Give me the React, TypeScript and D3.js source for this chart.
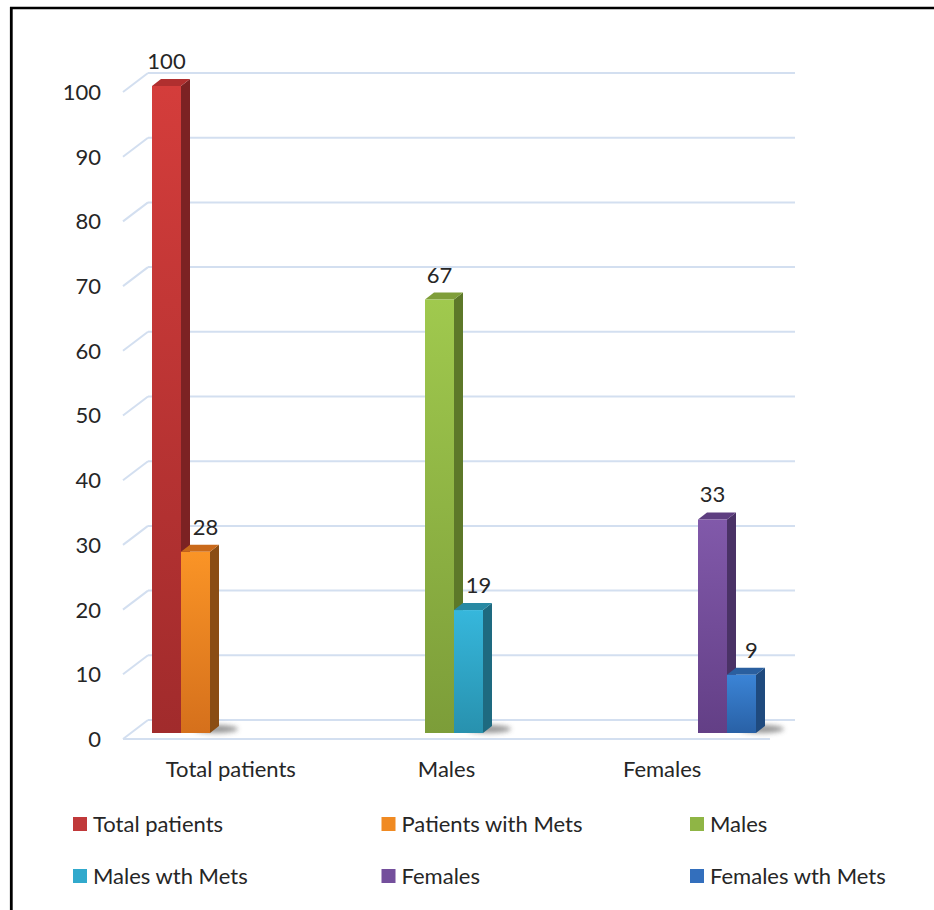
import React from "react";
import * as d3 from "d3";

const categories = ["Total patients", "Males", "Females"];
const seriesNames = [
  "Total patients",
  "Patients with Mets",
  "Males",
  "Males wth Mets",
  "Females",
  "Females wth Mets",
];
// per category: [main, with Mets]
const mainValues = [100, 67, 33];
const metsValues = [28, 19, 9];
const yTicks = [0, 10, 20, 30, 40, 50, 60, 70, 80, 90, 100];

// colours per series: [top, bottom, side, cap]
const seriesColors = [
  ["#d43d3b", "#a12b2c", "#7c2223", "#b02f2f"],
  ["#fa9426", "#d5701c", "#8a4d14", "#c9691a"],
  ["#a0c94e", "#7c9d39", "#5d7829", "#7f9e39"],
  ["#36b7dc", "#2891ae", "#1e6a80", "#2889a3"],
  ["#8159aa", "#633f86", "#4a3266", "#5e3e80"],
  ["#3b84d6", "#2961a6", "#1f4a7e", "#2a5f9f"],
];
const legendSwatch = ["#c0393a", "#f08a22", "#8fb545", "#31a9cc", "#744f9c", "#336fbd"];

const FONT = "Lato, 'Liberation Sans', Arial, sans-serif";
const TEXT = "#262626";
const GRID = "#d3dff0";

export default function App() {
  const W = 934;
  const H = 910;
  const y = d3.scaleLinear().domain([0, 100]).range([720, 73]);
  const depthX = -25;
  const depthY = 19;
  const backLeft = 148;
  const backRight = 795;
  const barFrontOffset = 13;
  const xCat = d3.scaleBand().domain(categories).range([backLeft + depthX, backRight + depthX]);
  const xGroup = d3.scalePoint().domain(categories).range([152, 698]);
  const barW = 29;
  const sideDx = 9;
  const sideDy = -7;

  const bars: { x: number; v: number; s: number; label: number }[] = [];
  categories.forEach((c, i) => {
    const gx = xGroup(c) as number;
    bars.push({ x: gx, v: mainValues[i], s: i * 2, label: 0 });
    bars.push({ x: gx + barW, v: metsValues[i], s: i * 2 + 1, label: 10 });
  });

  const legCol = d3.scalePoint<number>().domain([0, 1, 2]).range([73, 690]);
  const legRow = d3.scalePoint<number>().domain([0, 1]).range([824, 876]);

  return (
    <svg
      width={W}
      height={H}
      style={{ position: "absolute", left: 0, top: 0, background: "#fff" }}
      fontFamily={FONT}
    >
      <defs>
        {seriesColors.map((c, i) => (
          <linearGradient key={i} id={`g${i}`} x1="0" y1="0" x2="0" y2="1">
            <stop offset="0" stopColor={c[0]} />
            <stop offset="1" stopColor={c[1]} />
          </linearGradient>
        ))}
        <filter id="blur" x="-50%" y="-200%" width="200%" height="500%">
          <feGaussianBlur stdDeviation="2.5" />
        </filter>
      </defs>
      <rect x={0} y={0} width={W} height={H} fill="#fff" />
      {/* frame */}
      <line x1={11.3} y1={7} x2={11.3} y2={H} stroke="#000" strokeWidth={2.8} />
      <line x1={10} y1={8} x2={W} y2={8} stroke="#000" strokeWidth={2.5} />

      {/* gridlines on back wall with left diagonal */}
      {yTicks.map((t) => (
        <g key={t}>
          <line x1={backLeft + depthX} y1={y(t) + depthY} x2={backLeft} y2={y(t)} stroke={GRID} strokeWidth={2} />
          <line x1={backLeft} y1={y(t)} x2={backRight} y2={y(t)} stroke={GRID} strokeWidth={2} />
        </g>
      ))}
      {/* floor front edge */}
      <line
        x1={backLeft + depthX}
        y1={y(0) + depthY}
        x2={backRight + depthX}
        y2={y(0) + depthY}
        stroke={GRID}
        strokeWidth={2}
      />

      {/* y tick labels */}
      {yTicks.map((t) => (
        <text
          key={t}
          x={101}
          y={y(t) + depthY}
          dy="0.36em"
          textAnchor="end"
          fontSize={22}
          fill={TEXT}
        >
          {t}
        </text>
      ))}

      {/* shadows */}
      {categories.map((c) => {
        const gx = (xGroup(c) as number) + 2 * barW;
        return (
          <ellipse
            key={c}
            cx={gx + 6}
            cy={y(0) + barFrontOffset - 4}
            rx={22}
            ry={4}
            fill="#444"
            opacity={0.55}
            filter="url(#blur)"
          />
        );
      })}

      {/* bars */}
      {bars.map((b, i) => {
        const c = seriesColors[b.s];
        const yb = y(0) + barFrontOffset;
        const yt = y(b.v) + barFrontOffset;
        const x0 = b.x;
        const x1 = b.x + barW;
        const side = `M${x1},${yt} L${x1 + sideDx},${yt + sideDy} L${x1 + sideDx},${yb + sideDy} L${x1},${yb} Z`;
        const top = `M${x0},${yt} L${x0 + sideDx},${yt + sideDy} L${x1 + sideDx},${yt + sideDy} L${x1},${yt} Z`;
        return (
          <g key={i}>
            <path d={side} fill={c[2]} />
            <path d={top} fill={c[3]} />
            <rect x={x0} y={yt} width={barW} height={yb - yt} fill={`url(#g${b.s})`} />
          </g>
        );
      })}

      {/* value labels */}
      {bars.map((b, i) => (
        <text
          key={i}
          x={b.x + barW / 2 + b.label}
          y={y(b.v) + barFrontOffset - 17}
          textAnchor="middle"
          fontSize={22}
          fill={TEXT}
        >
          {b.v}
        </text>
      ))}

      {/* category labels */}
      {categories.map((c) => (
        <text
          key={c}
          x={(xCat(c) as number) + xCat.bandwidth() / 2}
          y={777}
          textAnchor="middle"
          fontSize={22}
          fill={TEXT}
        >
          {c}
        </text>
      ))}

      {/* legend */}
      {seriesNames.map((n, i) => {
        const lx = legCol(i % 3) as number;
        const ly = legRow(Math.floor(i / 3)) as number;
        return (
          <g key={n}>
            <rect x={lx} y={ly - 7} width={14} height={14} fill={legendSwatch[i]} />
            <text x={lx + 20} y={ly} dy="0.36em" fontSize={22} fill={TEXT}>
              {n}
            </text>
          </g>
        );
      })}
    </svg>
  );
}
